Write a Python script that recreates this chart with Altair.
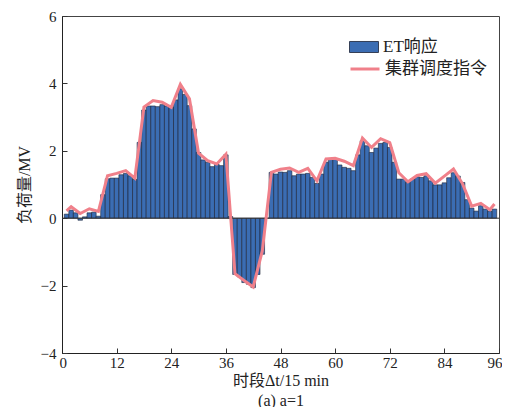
import altair as alt
import pandas as pd

# ET response (bars), periods 1..95
t_bar = list(range(1, 96))
et_resp = [0.12, 0.24, 0.16, -0.06, 0.04, 0.16, 0.18, 0.06, 0.70, 1.17,
           1.19, 1.19, 1.29, 1.33, 1.26, 1.15, 2.25, 3.21, 3.33, 3.33,
           3.31, 3.37, 3.33, 3.29, 3.51, 3.84, 3.67, 3.34, 2.65, 1.95,
           1.73, 1.66, 1.53, 1.61, 1.56, 1.88, 0.05, -1.67, -1.74, -1.91,
           -1.96, -2.06, -1.67, -1.07, 0.00, 1.36, 1.31, 1.37, 1.36, 1.41,
           1.26, 1.31, 1.31, 1.33, 1.21, 1.03, 1.31, 1.66, 1.76, 1.74,
           1.58, 1.51, 1.48, 1.41, 1.88, 2.30, 2.15, 1.95, 2.08, 2.22,
           2.25, 2.10, 1.66, 1.16, 1.16, 1.06, 1.16, 1.23, 1.21, 1.26,
           1.11, 0.99, 0.99, 1.05, 1.20, 1.35, 1.25, 1.06, 0.55, 0.30,
           0.21, 0.37, 0.27, 0.21, 0.27]

# cluster dispatch command (line)
t_cmd = [1, 2, 4, 6, 8, 10, 12, 14, 16, 18, 20, 22, 24, 26, 28, 30, 32, 34,
         36, 38, 40, 42, 44, 46, 48, 50, 52, 54, 56, 58, 60, 62, 64, 66, 68,
         70, 72, 74, 76, 78, 80, 82, 84, 86, 88, 90, 92, 94, 95]
cmd = [0.22, 0.34, 0.14, 0.28, 0.20, 1.26, 1.33, 1.41, 1.19, 3.30, 3.49,
       3.44, 3.29, 3.97, 3.54, 1.93, 1.71, 1.61, 1.90, -1.65, -1.85, -2.04,
       -0.97, 1.36, 1.45, 1.49, 1.36, 1.48, 1.11, 1.76, 1.78, 1.69, 1.56,
       2.38, 2.10, 2.36, 2.24, 1.35, 1.08, 1.27, 1.32, 1.04, 1.25, 1.46,
       1.02, 0.36, 0.44, 0.25, 0.42]

x_ticks = [0, 12, 24, 36, 48, 60, 72, 84, 96]
y_ticks = [-4, -2, 0, 2, 4, 6]
zero_line = [0]

bar_name = "ET响应"
cmd_name = "集群调度指令"

FONT = "Liberation Serif, Noto Sans CJK SC"

bars_df = pd.DataFrame({"t": t_bar, "v": et_resp, "s": bar_name})
cmd_df = pd.DataFrame({"t": t_cmd, "v": cmd, "s": cmd_name})
zero_df = pd.DataFrame({"z": zero_line})

xscale = alt.Scale(domain=[0, 96], nice=False, zero=False)
yscale = alt.Scale(domain=[-4, 6], nice=False)

bars = alt.Chart(bars_df).transform_calculate(
    x0="datum.t - 0.5", x1="datum.t + 0.5"
).mark_bar(stroke="#1b2236", strokeWidth=0.6, clip=True).encode(
    x=alt.X("x0:Q", scale=xscale,
            axis=alt.Axis(values=x_ticks, title=["时段Δt/15 min", "(a) a=1"],
                          tickSize=0, labelPadding=2, titlePadding=2,
                          titleLineHeight=20, grid=False, labelFlush=True,
                          labelFlushOffset=3)),
    x2="x1:Q",
    y=alt.Y("v:Q", scale=yscale,
            axis=alt.Axis(values=y_ticks, title="负荷量/MV", tickSize=0,
                          labelPadding=6, titlePadding=8, grid=False,
                          labelFlush=False)),
    y2=alt.datum(0),
    fill=alt.Fill("s:N", scale=alt.Scale(domain=[bar_name], range=["#3B6DB3"]),
                  legend=alt.Legend(orient="none", legendX=287, legendY=16,
                                    title=None,
                                    symbolType="M-1,-0.38H1V0.38H-1Z",
                                    symbolSize=841,
                                    symbolStrokeColor="#1b2236",
                                    symbolStrokeWidth=0.8,
                                    symbolOpacity=1,
                                    labelFontSize=17, labelOffset=4,
                                    padding=0)),
)

zero = alt.Chart(zero_df).mark_rule(color="#333333", strokeWidth=1).encode(
    y=alt.Y("z:Q", scale=yscale,
            axis=alt.Axis(orient="left", offset=-5, values=y_ticks, tickSize=5,
                          labels=False, domain=False, title=None, grid=False,
                          tickColor="#333333")),
)

xticks_layer = alt.Chart(zero_df).mark_rule(opacity=0).encode(
    x=alt.X("z:Q", scale=xscale,
            axis=alt.Axis(orient="bottom", offset=-5, values=x_ticks, tickSize=5,
                          labels=False, domain=False, title=None, grid=False,
                          tickColor="#333333")),
    y=alt.value(0),
)

line = alt.Chart(cmd_df).mark_line(strokeWidth=3, clip=True).encode(
    x=alt.X("t:Q", scale=xscale, axis=None),
    y=alt.Y("v:Q", scale=yscale, axis=None),
    stroke=alt.Stroke("s:N", scale=alt.Scale(domain=[cmd_name], range=["#F0808A"]),
                      legend=alt.Legend(orient="none", legendX=287, legendY=37,
                                        title=None, symbolType="stroke",
                                        symbolSize=841, symbolStrokeWidth=3,
                                        labelFontSize=17, labelOffset=4,
                                        padding=0)),
)

chart = alt.layer(bars, zero, xticks_layer, line).resolve_axis(
    x="independent", y="independent"
).resolve_legend(
    fill="independent", stroke="independent"
).properties(
    width=437, height=337,
    padding={"left": 54, "top": 8, "right": 3, "bottom": 54},
    autosize="none",
).configure_view(
    stroke="#444444", strokeWidth=1
).configure_axis(
    labelFont=FONT, titleFont=FONT, labelFontSize=15, titleFontSize=16,
    labelColor="#222222", titleColor="#222222", domainColor="#222222",
    titleFontWeight="normal"
).configure_legend(
    labelFont=FONT, labelColor="#222222"
)

chart.save("out.html", embed_options={"renderer": "svg", "actions": False})
